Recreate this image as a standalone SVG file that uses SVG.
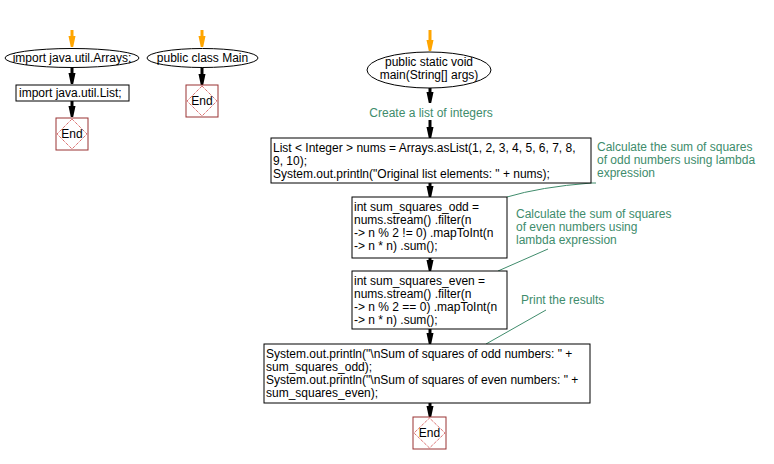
<svg xmlns="http://www.w3.org/2000/svg" width="774" height="464" viewBox="0 0 774 464">
<style>
text{font-family:"Liberation Sans",Arial,sans-serif;font-size:12px;fill:#000}
.c{fill:#408c6c}
.mid{text-anchor:middle}
.box{fill:#fff;stroke:#000;stroke-width:1}
.endr{fill:#fff;stroke:#993333;stroke-width:1}
.endd{fill:none;stroke:#cc3333;stroke-width:1;stroke-dasharray:1,1}
.a{stroke:#000;stroke-width:3;fill:none}
.o{stroke:#ffa500;stroke-width:3;fill:none}
.cl{stroke:#408c6c;stroke-width:1;fill:none}
</style>
<defs>
<marker id="ah" markerUnits="userSpaceOnUse" orient="auto" refX="2" refY="0" markerWidth="12" markerHeight="8" viewBox="0 -4 12 8" overflow="visible">
<path d="M0,-3.5 L11,-1.2 L11,1.2 L0,3.5 Z" fill="#000"/>
</marker>
<marker id="oh" markerUnits="userSpaceOnUse" orient="auto" refX="2" refY="0" markerWidth="12" markerHeight="8" viewBox="0 -4 12 8" overflow="visible">
<path d="M0,-3.5 L11,-1.2 L11,1.2 L0,3.5 Z" fill="#ffa500"/>
</marker>
</defs>
<rect width="774" height="464" fill="#fff"/>

<g id="connectors">
<line class="o" x1="72" y1="30" x2="72" y2="38" marker-end="url(#oh)"/>
<line class="o" x1="202" y1="30" x2="202" y2="38" marker-end="url(#oh)"/>
<line class="o" x1="430" y1="30" x2="430" y2="42" marker-end="url(#oh)"/>
<line class="a" x1="72" y1="67" x2="72" y2="75" marker-end="url(#ah)"/>
<line class="a" x1="72" y1="101" x2="72" y2="108" marker-end="url(#ah)"/>
<line class="a" x1="202" y1="67" x2="202" y2="76" marker-end="url(#ah)"/>
<line class="a" x1="430" y1="88" x2="430" y2="94" marker-end="url(#ah)"/>
<line class="a" x1="430" y1="120" x2="430" y2="129" marker-end="url(#ah)"/>
<line class="a" x1="430" y1="183" x2="430" y2="188" marker-end="url(#ah)"/>
<line class="a" x1="430" y1="258" x2="430" y2="262" marker-end="url(#ah)"/>
<line class="a" x1="430" y1="329" x2="430" y2="335" marker-end="url(#ah)"/>
<line class="a" x1="430" y1="403" x2="430" y2="408" marker-end="url(#ah)"/>
<path class="cl" d="M507,197 Q540,187 591,183 L596,183"/>
<path class="cl" d="M498,271 L548,249"/>
<path class="cl" d="M486,344 L546,310"/>
</g>

<g id="n_arrays">
<ellipse class="box" cx="72" cy="58" rx="67" ry="9.5"/>
<text class="mid" x="72" y="62">import java.util.Arrays;</text>
</g>
<g id="n_list">
<rect class="box" x="16" y="85" width="113" height="16"/>
<text x="19" y="97">import java.util.List;</text>
</g>
<g id="n_end1">
<rect class="endr" x="56" y="118" width="32" height="32"/>
<polygon class="endd" points="72,119 87,134 72,149 57,134"/>
<text class="mid" x="72" y="138">End</text>
</g>
<g id="n_main">
<ellipse class="box" cx="202.5" cy="58" rx="55.5" ry="9.5"/>
<text class="mid" x="202.5" y="62">public class Main</text>
</g>
<g id="n_end2">
<rect class="endr" x="186" y="85" width="32" height="32"/>
<polygon class="endd" points="202,86 217,101 202,116 187,101"/>
<text class="mid" x="202" y="105">End</text>
</g>
<g id="n_mainmethod">
<ellipse class="box" cx="429" cy="70" rx="62" ry="18"/>
<text class="mid" x="429" y="66">public static void</text>
<text class="mid" x="429" y="79">main(String[] args)</text>
</g>
<g id="c_create">
<text class="c mid" x="431" y="117">Create a list of integers</text>
</g>
<g id="n_nums">
<rect class="box" x="271" y="138" width="320" height="45"/>
<text x="273" y="152">List &lt; Integer &gt; nums = Arrays.asList(1, 2, 3, 4, 5, 6, 7, 8,</text>
<text x="273" y="165">9, 10);</text>
<text x="273" y="178">System.out.println("Original list elements: " + nums);</text>
</g>
<g id="c_odd">
<text class="c" x="597" y="151">Calculate the sum of squares</text>
<text class="c" x="597" y="164">of odd numbers using lambda</text>
<text class="c" x="597" y="177">expression</text>
</g>
<g id="n_odd">
<rect class="box" x="352" y="197" width="155" height="61"/>
<text x="354" y="211">int sum_squares_odd =</text>
<text x="354" y="224">nums.stream() .filter(n</text>
<text x="354" y="237">-&gt; n % 2 != 0) .mapToInt(n</text>
<text x="354" y="250">-&gt; n * n) .sum();</text>
</g>
<g id="c_even">
<text class="c" x="516" y="218">Calculate the sum of squares</text>
<text class="c" x="516" y="231">of even numbers using</text>
<text class="c" x="516" y="244">lambda expression</text>
</g>
<g id="n_even">
<rect class="box" x="352" y="271" width="155" height="58"/>
<text x="354" y="285">int sum_squares_even =</text>
<text x="354" y="298">nums.stream() .filter(n</text>
<text x="354" y="311">-&gt; n % 2 == 0) .mapToInt(n</text>
<text x="354" y="324">-&gt; n * n) .sum();</text>
</g>
<g id="c_print">
<text class="c" x="521" y="304">Print the results</text>
</g>
<g id="n_print">
<rect class="box" x="264" y="344" width="326" height="59"/>
<text x="266" y="358">System.out.println("\nSum of squares of odd numbers: " +</text>
<text x="266" y="371">sum_squares_odd);</text>
<text x="266" y="384">System.out.println("\nSum of squares of even numbers: " +</text>
<text x="266" y="397">sum_squares_even);</text>
</g>
<g id="n_end3">
<rect class="endr" x="413" y="417" width="33" height="32"/>
<polygon class="endd" points="429.5,418 445,433 429.5,448 414,433"/>
<text class="mid" x="429.5" y="437">End</text>
</g>
</svg>
